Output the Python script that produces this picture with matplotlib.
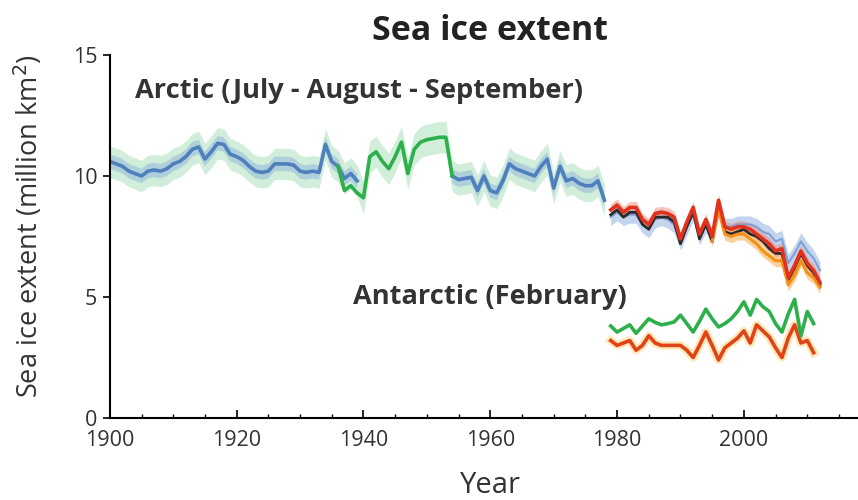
import numpy as np
import matplotlib
matplotlib.use("Agg")
import matplotlib.pyplot as plt
from matplotlib.ticker import MultipleLocator

plt.rcParams['font.family'] = ['Open Sans', 'DejaVu Sans']

# Arctic summer (JAS) extent before the satellite era
early_years = list(range(1900, 1979))
early_blue = [10.6, 10.5, 10.4, 10.2, 10.1, 10.0, 10.2, 10.25, 10.2, 10.3,
              10.5, 10.6, 10.8, 11.1, 11.2, 10.7, 11.0, 11.35, 11.3, 10.9,
              10.8, 10.65, 10.4, 10.2, 10.15, 10.2, 10.5, 10.5, 10.5, 10.45,
              10.2, 10.15, 10.2, 10.15, 11.3, 10.6, 10.4, 9.9, 10.1, 9.8,
              np.nan, np.nan, np.nan, np.nan, np.nan, np.nan, np.nan, np.nan, np.nan, np.nan,
              np.nan, np.nan, np.nan, np.nan, 10.0, 9.85, 9.9, 9.95, 9.4, 10.0,
              9.4, 9.3, 9.8, 10.5, 10.3, 10.2, 10.1, 10.0, 10.4, 10.7,
              9.5, 10.4, 9.8, 9.9, 9.7, 9.6, 9.6, 9.8, 9.0]

green_years = list(range(1936, 1955))
green_vals = [10.4, 9.4, 9.6, 9.3, 9.1, 10.8, 11.0, 10.6, 10.3, 10.8,
              11.4, 10.1, 11.1, 11.4, 11.5, 11.55, 11.6, 11.6, 10.0]

# satellite era, 1979-2012
sat_years = list(range(1979, 2013))
arctic_red = [8.6, 8.8, 8.5, 8.7, 8.7, 8.2, 8.0, 8.45, 8.5, 8.45,
              8.3, 7.4, 8.1, 8.7, 7.6, 8.2, 7.5, 9.0, 7.9, 7.8,
              7.9, 7.9, 7.8, 7.6, 7.4, 7.2, 6.9, 7.0, 5.8, 6.3,
              6.9, 6.4, 6.1, 5.6]
arctic_black = [8.4, 8.6, 8.3, 8.5, 8.5, 8.0, 7.8, 8.3, 8.3, 8.3,
                8.1, 7.2, 7.9, 8.5, 7.4, 8.0, 7.3, 8.8, 7.7, 7.6,
                7.7, 7.8, 7.6, 7.5, 7.3, 7.0, 6.8, 6.8, 5.7, 6.2,
                6.8, 6.3, 6.0, 5.5]
arctic_orange = [np.nan] * 16 + [7.3, 8.6, 7.6, 7.5, 7.6, 7.6, 7.4, 7.2, 6.9,
                                 6.7, 6.5, 6.5, 5.5, 5.9, 6.5, 6.0, 5.8, 5.4]
arctic_blue = [8.3, 8.5, 8.3, 8.4, 8.4, 8.0, 7.8, 8.2, 8.3, 8.2,
               8.0, 7.3, 7.9, 8.5, 7.5, 8.0, 7.5, 8.7, 7.9, 7.9,
               8.0, 8.0, 8.0, 7.9, 7.7, 7.6, 7.3, 7.4, 6.4, 6.8,
               7.3, 6.9, 6.6, 6.1]

ant_years = list(range(1979, 2012))
ant_green = [3.8, 3.55, 3.7, 3.85, 3.5, 3.8, 4.1, 3.95, 3.85, 3.9,
             3.97, 4.25, 3.9, 3.55, 4.0, 4.5, 4.1, 3.76, 3.9, 4.1,
             4.4, 4.8, 4.25, 4.9, 4.6, 4.4, 3.9, 3.55, 4.3, 4.9,
             3.4, 4.4, 3.9]
ant_red = [3.2, 3.0, 3.1, 3.2, 2.8, 3.0, 3.4, 3.1, 3.0, 3.0,
           3.0, 3.0, 2.8, 2.5, 3.0, 3.55, 3.0, 2.4, 2.9, 3.1,
           3.3, 3.6, 3.1, 3.85, 3.6, 3.35, 2.9, 2.5, 3.3, 3.85,
           3.1, 3.2, 2.7]

GREEN_SPREAD = 0.65
BLUE_SPREAD = 0.3

fig = plt.figure(figsize=(8.58, 5.0), dpi=100)
ax = fig.add_axes([0.128, 0.164, 0.872, 0.726])

ey = np.array(early_years)
eb = np.array(early_blue)
gy = np.array(green_years)
gv = np.array(green_vals)

# green uncertainty envelope for the whole early record
env = eb.copy()
env[40:54] = gv[4:18]
ax.fill_between(ey, env - GREEN_SPREAD, env + GREEN_SPREAD, color='#b3e3c2', alpha=0.6, lw=0)
ax.fill_between(ey, eb - BLUE_SPREAD, eb + BLUE_SPREAD, color='#8fb3dc', alpha=0.5, lw=0)
ax.plot(ey, eb, color='#4f80bd', lw=2.6)
ax.plot(gy, gv, color='#2db04b', lw=2.6)

sy = np.array(sat_years)
ab = np.array(arctic_blue)
ar = np.array(arctic_red)
ao = np.array(arctic_orange)
ax.fill_between(sy, ab - 0.35, ab + 0.35, color='#a9c2e8', alpha=0.7, lw=0)
ax.fill_between(sy, ar - 0.25, ar + 0.25, color='#f08a7a', alpha=0.5, lw=0)
ax.fill_between(sy, ao - 0.25, ao + 0.25, color='#f7b35a', alpha=0.6, lw=0)
ax.plot(sy, ab, color='#6f95cf', lw=1.5, alpha=0.8)
ax.plot(sy, arctic_black, color='#2a2a2a', lw=2.0)
ax.plot(sy, ao, color='#f39018', lw=2.2)
ax.plot(sy, ar, color='#e1321d', lw=2.6)

ay = np.array(ant_years)
ax.plot(ay, ant_red, color='#ffd070', lw=6, alpha=0.5)
ax.plot(ay, ant_red, color='#e0421a', lw=2.6)
ax.plot(ay, ant_green, color='#2db04b', lw=2.6)

ax.text(1904, 13.5, 'Arctic (July - August - September)', fontsize=19.6,
        fontweight='bold', color='#333333', va='center', ha='left')
ax.text(1938.3, 5.0, 'Antarctic (February)', fontsize=19.6,
        fontweight='bold', color='#333333', va='center', ha='left')

ax.set_xlim(1900, 2018)
ax.set_ylim(0, 15)
ax.xaxis.set_major_locator(MultipleLocator(20))
ax.xaxis.set_minor_locator(MultipleLocator(5))
ax.set_yticks([0, 5, 10, 15])
ax.tick_params(axis='x', which='major', direction='in', length=6, width=1.2,
               labelsize=15.5, labelcolor='#333333', pad=9)
ax.tick_params(axis='x', which='minor', direction='in', length=3, width=1)
ax.tick_params(axis='y', direction='out', length=5, width=1.2,
               labelsize=15.5, labelcolor='#333333', pad=4)
for s in ('top', 'right'):
    ax.spines[s].set_visible(False)
for s in ('left', 'bottom'):
    ax.spines[s].set_linewidth(1.5)

ax.set_xlabel('Year', fontsize=21, color='#333333')
ax.xaxis.set_label_coords(0.509, -0.145)
ax.set_ylabel('Sea ice extent (million km$^2$)', fontsize=19.5, color='#333333')
ax.yaxis.set_label_coords(-0.087, 0.53)
ax.set_title('Sea ice extent', fontsize=24.5, fontweight='bold', color='#222222',
             pad=11, x=0.508)

fig.savefig('out.png', dpi=100)
